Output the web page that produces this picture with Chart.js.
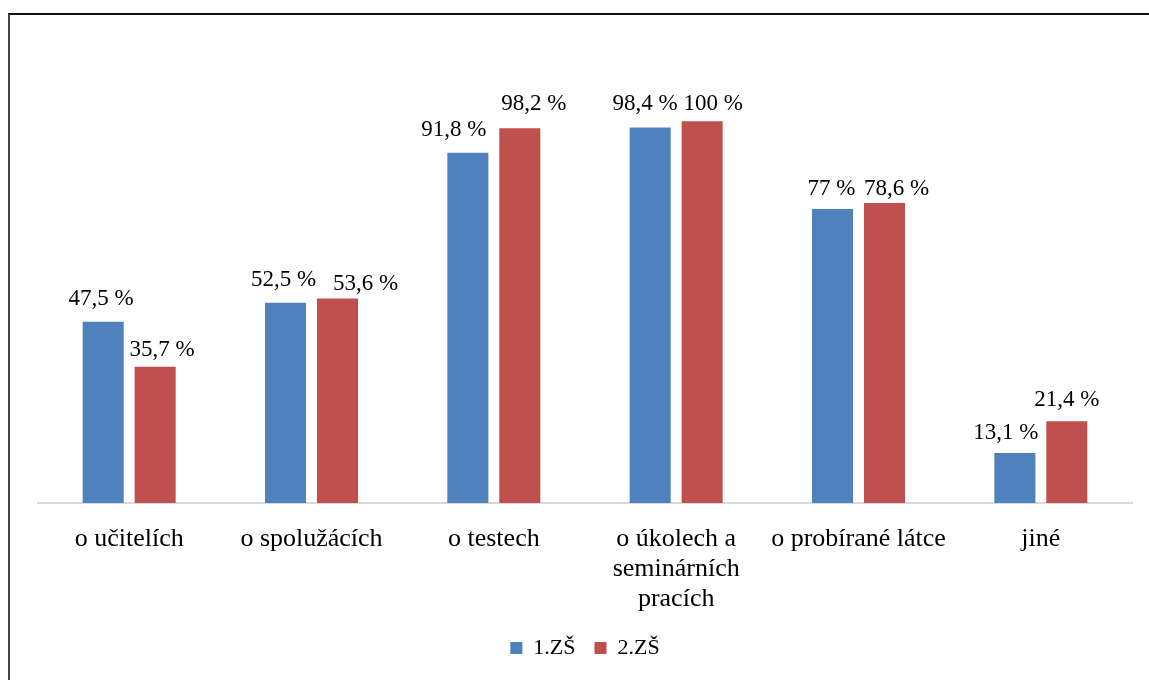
<!DOCTYPE html>
<html>
<head>
<meta charset="utf-8">
<script src="https://cdn.jsdelivr.net/npm/chart.js@4"></script>
<style>
html,body{margin:0;padding:0;background:#fff;}
#wrap{position:relative;width:1149px;height:680px;overflow:hidden;}
#frame{position:absolute;left:8px;top:13px;width:1200px;height:700px;border-top:2px solid #111;border-left:2px solid #444;pointer-events:none;}
canvas{position:absolute;left:0;top:0;}
</style>
</head>
<body>
<div id="wrap">
<canvas id="c" width="1149" height="680"></canvas>
<div id="frame"></div>
</div>
<script>
const categories = [
  'o učitelích',
  'o spolužácích',
  'o testech',
  ['o úkolech a', 'seminárních', 'pracích'],
  'o probírané látce',
  'jiné'
];
const seriesNames = ['1.ZŠ', '2.ZŠ'];
const zs1 = [47.5, 52.5, 91.8, 98.4, 77, 13.1];
const zs2 = [35.7, 53.6, 98.2, 100, 78.6, 21.4];
const colors = ['#4F81BD', '#C0504D'];

// manual nudges of the value labels (as placed in the original), pixels
const labelDx = [[-2, -2, -14, -5, -1, -9], [7, 28, 14, 11, 12, 0]];
const labelDy = [[-2, -2, -2, -2, 1, 1], [4, 7, -3, 4, 7, 0]];

const FONT = "'Liberation Serif', 'Times New Roman', serif";

const labelPlugin = {
  id: 'valueLabels',
  afterDatasetsDraw(chart) {
    const ctx = chart.ctx;
    ctx.save();
    ctx.font = '23px ' + FONT;
    ctx.fillStyle = '#000';
    ctx.textAlign = 'center';
    ctx.textBaseline = 'middle';
    chart.data.datasets.forEach((ds, i) => {
      const meta = chart.getDatasetMeta(i);
      meta.data.forEach((bar, j) => {
        const v = ds.data[j];
        const txt = String(v).replace('.', ',') + ' %';
        ctx.fillText(txt, bar.x + labelDx[i][j], bar.y - 21 + labelDy[i][j]);
      });
    });
    ctx.restore();
  }
};

new Chart(document.getElementById('c'), {
  type: 'bar',
  data: {
    labels: categories,
    datasets: [
      { label: seriesNames[0], data: zs1, backgroundColor: colors[0] },
      { label: seriesNames[1], data: zs2, backgroundColor: colors[1] }
    ]
  },
  options: {
    responsive: false,
    animation: false,
    layout: { padding: { left: 38, right: 17, top: 45, bottom: 11 } },
    datasets: { bar: { categoryPercentage: 0.57, barPercentage: 0.79 } },
    scales: {
      y: { display: false, min: 0, max: 120 },
      x: {
        grid: { display: false, drawTicks: false },
        border: { display: true, color: '#d9d9d9', width: 2 },
        ticks: {
          color: '#000',
          font: { family: FONT, size: 26, lineHeight: 1.15 },
          padding: 21,
          maxRotation: 0,
          autoSkip: false
        },
        afterFit(scale) { scale.height = 115; }
      }
    },
    plugins: {
      legend: {
        position: 'bottom',
        labels: {
          color: '#000',
          font: { family: FONT, size: 22 },
          boxWidth: 12,
          boxHeight: 12,
          padding: 19
        }
      },
      tooltip: { enabled: false }
    }
  },
  plugins: [labelPlugin]
});
</script>
</body>
</html>
